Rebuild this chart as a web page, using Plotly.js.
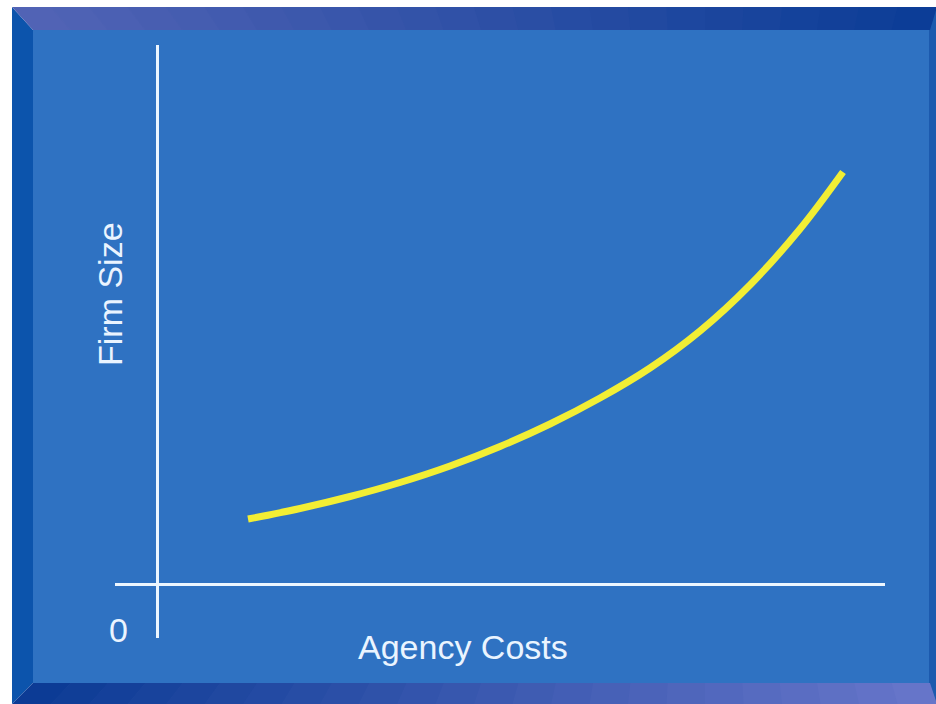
<!DOCTYPE html>
<html>
<head>
<meta charset="utf-8">
<script src="https://cdn.plot.ly/plotly-3.0.1.min.js"></script>
<style>
html,body{margin:0;padding:0;background:#fff;}
#chart{width:936px;height:704px;}
</style>
</head>
<body>
<div id="chart"></div>
<script>
// Data (x in agency-cost units, y in firm-size units)
const agencyCosts = [9.1, 14.3, 19.3, 24.3, 29.3, 34.3, 39.3, 44.3, 49.3, 54.3, 59.3, 64.3, 68.6];
const firmSize    = [6.5, 7.55, 8.75, 10.15, 11.8, 13.75, 16.0, 18.6, 21.6, 25.3, 29.9, 35.5, 41.2];
const xTitle = "Agency Costs";
const yTitle = "Firm Size";
const originLabel = "0";

// layout geometry (plot area in page pixels)
const L = 115, R = 885, T = 45, B = 638;
const W = 936, H = 704;
const px = p => (p - L) / (R - L);
const py = p => (B - p) / (B - T);

function poly(pts, color) {
  let d = pts.map((p, i) => (i ? "L" : "M") + px(p[0]) + "," + py(p[1])).join(" ") + " Z";
  return {type: "path", xref: "paper", yref: "paper", path: d, fillcolor: color,
          line: {width: 0}, layer: "below"};
}
function lerp(a, b, t) {
  return "rgb(" + a.map((v, i) => Math.round(v + (b[i] - v) * t)).join(",") + ")";
}

const shapes = [];
const fx0 = 12, fy0 = 7, fx1 = 936, fy1 = 704;
const ix0 = 33, iy0 = 30, ix1 = 929, iy1 = 683;
// inner panel
shapes.push(poly([[ix0, iy0], [ix1, iy0], [ix1, iy1], [ix0, iy1]], "rgb(47,114,194)"));
// left bevel
shapes.push(poly([[fx0, fy0], [ix0, iy0], [ix0, iy1], [fx0, fy1]], "rgb(12,84,172)"));
// right bevel
shapes.push(poly([[fx1, fy0], [ix1, iy0], [ix1, iy1], [fx1, fy1]], "rgb(28,90,174)"));
// top & bottom bevels with horizontal gradient
const N = 24;
const topA = [82, 100, 182], topB = [10, 60, 150];
const botA = [10, 58, 148], botB = [104, 118, 202];
for (let i = 0; i < N; i++) {
  const t0 = i / N, t1 = (i + 1) / N;
  const ox0 = fx0 + (fx1 - fx0) * t0, ox1 = fx0 + (fx1 - fx0) * t1 + 1;
  const inx0 = ix0 + (ix1 - ix0) * t0, inx1 = ix0 + (ix1 - ix0) * t1 + 1;
  shapes.push(poly([[ox0, fy0], [ox1, fy0], [inx1, iy0], [inx0, iy0]], lerp(topA, topB, (t0 + t1) / 2)));
  shapes.push(poly([[ox0, fy1], [ox1, fy1], [inx1, iy1], [inx0, iy1]], lerp(botA, botB, (t0 + t1) / 2)));
}

const textColor = "rgb(234,244,255)";
const font = {family: "Liberation Sans, Arial, sans-serif", size: 34, color: textColor};

const trace = {
  x: agencyCosts, y: firmSize, type: "scatter", mode: "lines",
  line: {color: "rgb(242,238,52)", width: 7, shape: "spline", smoothing: 1},
  hoverinfo: "skip"
};

const layout = {
  width: W, height: H,
  margin: {l: L, r: W - R, t: T, b: H - B},
  paper_bgcolor: "#ffffff",
  plot_bgcolor: "rgba(0,0,0,0)",
  showlegend: false,
  xaxis: {range: [-4.2, 72.8], showgrid: false, showticklabels: false, ticks: "",
          zeroline: true, zerolinecolor: "rgb(236,246,255)", zerolinewidth: 3, showline: false, fixedrange: true},
  yaxis: {range: [-5.4, 53.9], showgrid: false, showticklabels: false, ticks: "",
          zeroline: true, zerolinecolor: "rgb(236,246,255)", zerolinewidth: 3, showline: false, fixedrange: true},
  shapes: shapes,
  annotations: [
    {text: yTitle, xref: "paper", yref: "paper", x: px(110), y: py(294), textangle: -90,
     showarrow: false, xanchor: "center", yanchor: "middle", font: font},
    {text: xTitle, xref: "paper", yref: "paper", x: px(463), y: py(647),
     showarrow: false, xanchor: "center", yanchor: "middle", font: font},
    {text: originLabel, xref: "paper", yref: "paper", x: px(118), y: py(630),
     showarrow: false, xanchor: "center", yanchor: "middle", font: font}
  ]
};

Plotly.newPlot("chart", [trace], layout, {displayModeBar: false, staticPlot: true});
</script>
</body>
</html>
